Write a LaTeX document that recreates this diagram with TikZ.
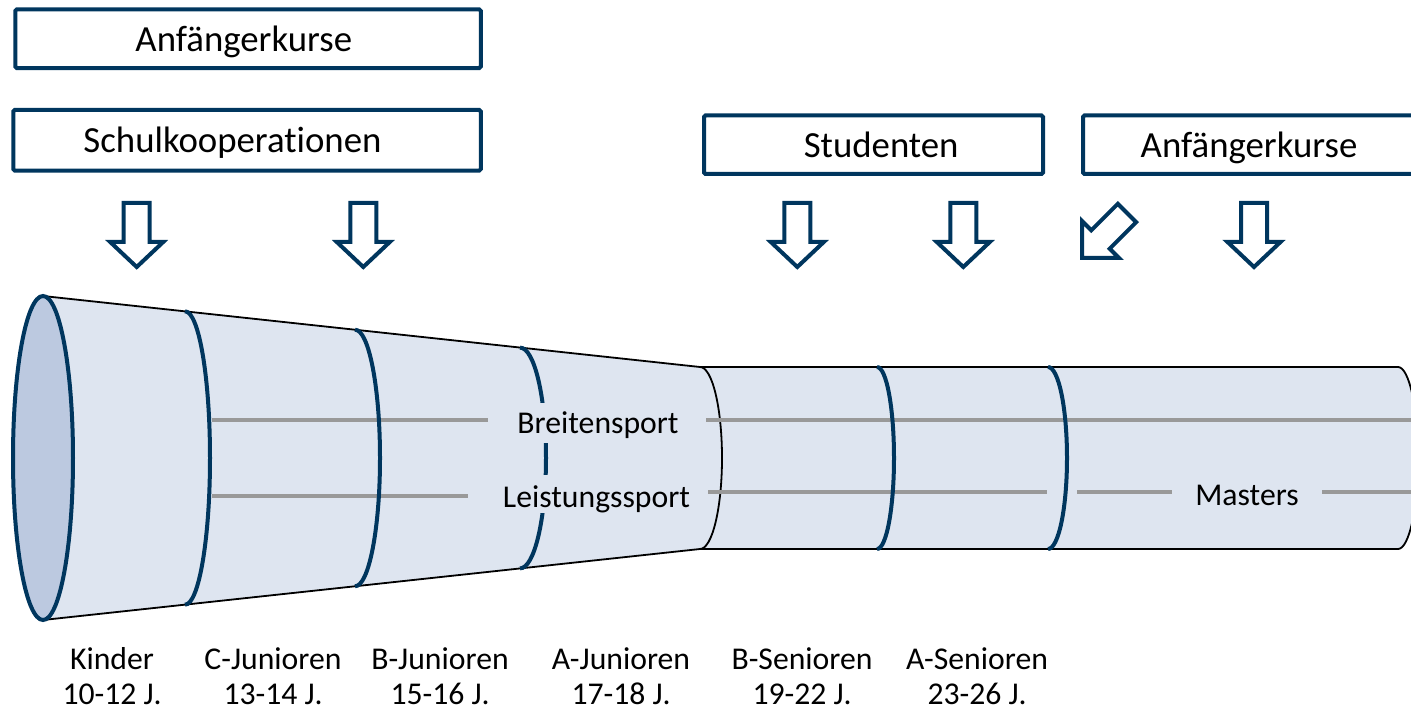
\documentclass[tikz,border=0pt]{standalone}
\usepackage{fontspec}
\setmainfont{Carlito}[Ligatures={NoCommon}]
\definecolor{dblue}{RGB}{0,54,94}
\definecolor{tubefill}{RGB}{222,229,240}
\definecolor{endfill}{RGB}{188,201,224}
\definecolor{lgray}{RGB}{153,153,153}
\tikzset{
  boxnode/.style={draw=dblue,line width=4pt,fill=white,rounded corners=1.5pt,inner sep=0pt,
    text height=26pt,text depth=1pt,font=\fontsize{36.8}{44}\selectfont},
  blockarrow/.style={draw=dblue,line width=4pt,fill=white,line join=miter},
  ringline/.style={draw=dblue,line width=4pt},
  tubeedge/.style={draw=black,line width=1.8pt},
  grayline/.style={draw=lgray,line width=3.5pt},
  lbl/.style={font=\fontsize{31.7}{35}\selectfont,align=center,inner sep=0pt},
  midlbl/.style={font=\fontsize{31.7}{38}\selectfont,fill=tubefill,inner xsep=3pt,inner ysep=1pt},
  downarrow/.pic={\draw[blockarrow] (-13,-64) -- (13,-64) -- (13,-25) -- (26.5,-25) -- (0,0) -- (-26.5,-25) -- (-13,-25) -- cycle;}
}
\begin{document}
\begin{tikzpicture}[x=1pt,y=-1pt]
\useasboundingbox (0,0) rectangle (1411,711);
\clip (0,0) rectangle (1411,711);

% boxes
\node[boxnode,minimum width=465.5,minimum height=58.7] (b1) at (248,38.7) {\hspace*{-8.5pt}Anfängerkurse};
\node[boxnode,minimum width=467.5,minimum height=60.7] (b2) at (247,140.3) {\hspace*{-29pt}Schulkooperationen};
\node[boxnode,minimum width=339,minimum height=58.5] (b3) at (873.5,144.7) {\hspace*{15.4pt}Studenten};
\node[boxnode,minimum width=332,minimum height=58.5] (b4) at (1249,144.7) {Anfängerkurse};

% block arrows
\pic at (136.7,267) {downarrow};
\pic at (363.3,267) {downarrow};
\pic at (797.3,267) {downarrow};
\pic at (963.3,267) {downarrow};
\pic at (1254,267) {downarrow};
\draw[blockarrow] (1117.8,203.8) -- (1136.2,222.2) -- (1109.7,248.7) -- (1119,258) -- (1082,258) -- (1082,221) -- (1091.3,230.3) -- cycle;

% tube
\fill[tubefill] (43,296) -- (700,367) -- (1398,367) arc[start angle=-90,end angle=90,x radius=20,y radius=91] -- (700,549) -- (43,620) -- cycle;
\draw[tubeedge] (43,296) -- (700,367) -- (1398,367) arc[start angle=-90,end angle=90,x radius=20,y radius=91] -- (700,549) -- (43,620);
\draw[tubeedge] (700,367) arc[start angle=-90,end angle=90,x radius=22,y radius=91];

% gray lines
\coordinate (bl1) at (212,420); \coordinate (bl2) at (488,420);
\coordinate (bl3) at (706,420); \coordinate (bl4) at (1420,420);
\coordinate (ll1) at (212,496); \coordinate (ll2) at (468,496);
\coordinate (ll3) at (708,492); \coordinate (ll4) at (1047,492);
\coordinate (ml1) at (1077,492); \coordinate (ml2) at (1172,492);
\coordinate (ml3) at (1322,492); \coordinate (ml4) at (1420,492);
\draw[grayline] (bl1) -- (bl2);
\draw[grayline] (bl3) -- (bl4);
\draw[grayline] (ll1) -- (ll2);
\draw[grayline] (ll3) -- (ll4);
\draw[grayline] (ml1) -- (ml2);
\draw[grayline] (ml3) -- (ml4);

% rings
\draw[ringline,fill=endfill] (43,458) ellipse[x radius=30,y radius=162];
\draw[ringline] (185,311.3) arc[start angle=-90,end angle=90,x radius=25,y radius=146.7];
\draw[ringline] (355,329.7) arc[start angle=-90,end angle=90,x radius=25,y radius=128.3];
\draw[ringline] (520,347.6) arc[start angle=-90,end angle=90,x radius=26,y radius=110.4];
\draw[ringline] (877,367) arc[start angle=-90,end angle=90,x radius=17,y radius=91];
\draw[ringline] (1048,367) arc[start angle=-90,end angle=90,x radius=19,y radius=91];

% middle labels
\node[midlbl,anchor=base,text height=29pt,text depth=9pt] (breit) at (598,433) {Breitensport};
\node[midlbl,anchor=base,text height=31pt,text depth=5pt] (leist) at (596.5,507) {Leistungssport};
\node[font=\fontsize{31.7}{38}\selectfont,anchor=base,inner sep=0pt] (masters) at (1247,505) {Masters};

% bottom labels
\node[lbl] (k) at (112,676) {Kinder\\10-12 J.};
\node[lbl] (cj) at (273,676) {C-Junioren\\13-14 J.};
\node[lbl] (bj) at (440,676) {B-Junioren\\15-16 J.};
\node[lbl] (aj) at (621,676) {A-Junioren\\17-18 J.};
\node[lbl] (bs) at (802,676) {B-Senioren\\19-22 J.};
\node[lbl] (as) at (977,676) {A-Senioren\\23-26 J.};
\end{tikzpicture}
\end{document}
